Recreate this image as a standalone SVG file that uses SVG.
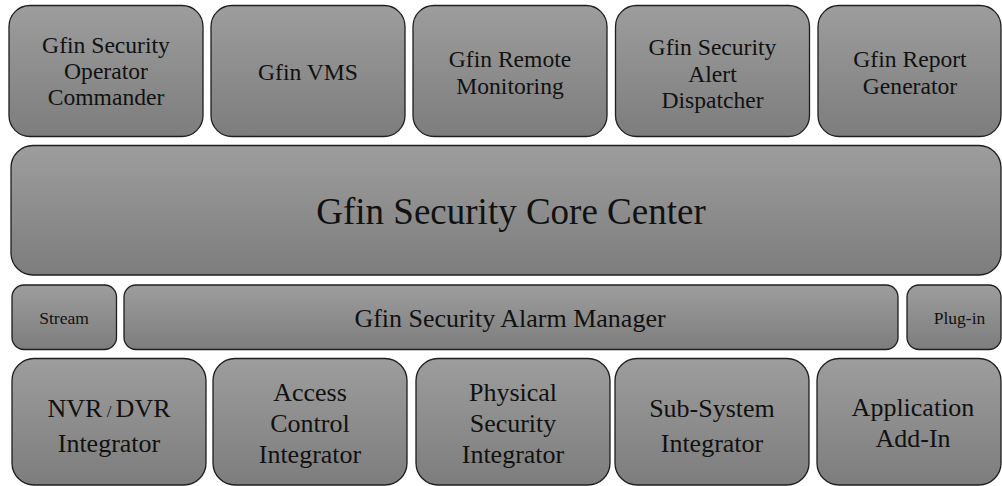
<svg xmlns="http://www.w3.org/2000/svg" width="1002" height="486" viewBox="0 0 1002 486" font-family="Liberation Serif, serif">
<defs>
<linearGradient id="g" x1="0" y1="0" x2="0" y2="1">
<stop offset="0" stop-color="#9d9d9d"/>
<stop offset="1" stop-color="#7d7d7d"/>
</linearGradient>
<style>
.box{fill:url(#g);stroke:#1e1e1e;stroke-width:1.3}
text{fill:#111;text-anchor:middle}
.t{font-size:23.6px}
.c{font-size:37px}
.a{font-size:26px}
.s{font-size:17.5px}
.b{font-size:26px}
</style>
</defs>
<rect width="1002" height="486" fill="#ffffff"/>
<g id="operator-commander">
<rect class="box" x="9" y="5.5" width="194" height="131" rx="21"/>
<text class="t" x="106" y="53">Gfin Security</text>
<text class="t" x="106" y="79">Operator</text>
<text class="t" x="106" y="105">Commander</text>
</g>
<g id="vms">
<rect class="box" x="211" y="5.5" width="194" height="131" rx="21"/>
<text class="t" x="308" y="80">Gfin VMS</text>
</g>
<g id="remote-monitoring">
<rect class="box" x="413" y="5.5" width="194" height="131" rx="21"/>
<text class="t" x="510" y="67">Gfin Remote</text>
<text class="t" x="510" y="94">Monitoring</text>
</g>
<g id="alert-dispatcher">
<rect class="box" x="615.5" y="5.5" width="194" height="131" rx="21"/>
<text class="t" x="712.5" y="55">Gfin Security</text>
<text class="t" x="712.5" y="82">Alert</text>
<text class="t" x="712.5" y="108">Dispatcher</text>
</g>
<g id="report-generator">
<rect class="box" x="818" y="5.5" width="183" height="131" rx="21"/>
<text class="t" x="910" y="67">Gfin Report</text>
<text class="t" x="910" y="94">Generator</text>
</g>
<g id="core-center">
<rect class="box" x="11" y="145.5" width="990" height="129.5" rx="22"/>
<text class="c" x="511" y="224">Gfin Security Core Center</text>
</g>
<g id="stream">
<rect class="box" x="12" y="285" width="104.5" height="64.5" rx="12"/>
<text class="s" x="64" y="324">Stream</text>
</g>
<g id="alarm-manager">
<rect class="box" x="124" y="285" width="774" height="64.5" rx="12"/>
<text class="a" x="510" y="327">Gfin Security Alarm Manager</text>
</g>
<g id="plug-in">
<rect class="box" x="907" y="285" width="94" height="64.5" rx="12"/>
<text class="s" x="959.5" y="324">Plug-in</text>
</g>
<g id="nvr-dvr">
<rect class="box" x="12" y="358.5" width="194" height="126.5" rx="22"/>
<text class="b" x="109" y="417">NVR<tspan font-size="17"> / </tspan>DVR</text>
<text class="b" x="109" y="452">Integrator</text>
</g>
<g id="access-control">
<rect class="box" x="213" y="358.5" width="194" height="126.5" rx="22"/>
<text class="b" x="310" y="401">Access</text>
<text class="b" x="310" y="432">Control</text>
<text class="b" x="310" y="463">Integrator</text>
</g>
<g id="physical-security">
<rect class="box" x="416" y="358.5" width="194" height="126.5" rx="22"/>
<text class="b" x="513" y="401">Physical</text>
<text class="b" x="513" y="432">Security</text>
<text class="b" x="513" y="463">Integrator</text>
</g>
<g id="sub-system">
<rect class="box" x="615" y="358.5" width="194" height="126.5" rx="22"/>
<text class="b" x="712" y="417">Sub-System</text>
<text class="b" x="712" y="452">Integrator</text>
</g>
<g id="application-add-in">
<rect class="box" x="817" y="358.5" width="184" height="126.5" rx="22"/>
<text class="b" x="913" y="416">Application</text>
<text class="b" x="913" y="447">Add-In</text>
</g>
<g id="connectors"/>
</svg>
